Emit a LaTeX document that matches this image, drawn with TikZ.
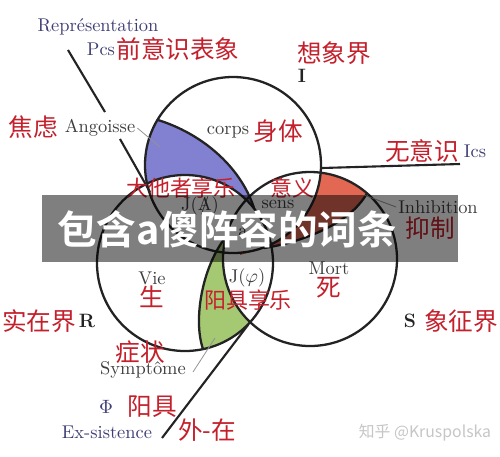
\documentclass[tikz,border=0pt]{standalone}
\usepackage{fontspec}
\newfontfamily\cjk{Noto Sans CJK SC}
\newfontfamily\cjkbold{Noto Sans CJK SC Bold}
\usepackage{tikz}
\definecolor{ink}{RGB}{35,35,35}
\definecolor{zhred}{RGB}{196,32,44}
\definecolor{labgray}{RGB}{62,62,62}
\definecolor{labblue}{RGB}{62,62,118}
\definecolor{angblue}{RGB}{130,128,208}
\definecolor{inhred}{RGB}{226,104,84}
\definecolor{symgreen}{RGB}{165,200,115}

\begin{document}
\begin{tikzpicture}[x=0.2mm,y=-0.2mm]
\tikzstyle{ring}=[draw=ink,line width=1.3pt]
\tikzstyle{longline}=[draw=ink,line width=1.2pt]
\tikzstyle{pointer}=[draw=gray!85,line width=0.45pt]
\tikzstyle{fr}=[text=labgray,inner sep=1pt,font=\fontsize{10.5}{12}\selectfont]
\tikzstyle{frblue}=[fr,text=labblue]
\tikzstyle{reg}=[text=ink,inner sep=1pt,font=\fontsize{11}{12}\selectfont\bfseries]
\tikzstyle{zh}=[text=zhred,inner sep=0pt,font=\cjk\fontsize{14}{16}\selectfont]
\tikzstyle{zhsmall}=[zh,font=\cjk\fontsize{12.5}{14}\selectfont]

\fill[white] (0,0) rectangle (500,456);
\useasboundingbox (0,0) rectangle (500,456);

\coordinate (cI) at (233,165);
\coordinate (cR) at (185,263);
\coordinate (cS) at (310,259);

% angoisse
\begin{scope}
\clip (cI) circle (88);
\clip (116,107) -- (158,120) .. controls (200,133) and (240,165) .. (254,208) -- (270,260) -- (100,260) -- (100,107) -- cycle;
\fill[angblue,even odd rule] (0,0) rectangle (500,456) (cR) circle (88);
\end{scope}

% inhibition
\begin{scope}
\clip (cS) circle (87);
\clip (384,161) -- (367,193) .. controls (350,225) and (298,243) .. (264,248) -- (240,255) -- (240,100) -- (420,100) -- cycle;
\fill[inhred,even odd rule] (0,0) rectangle (500,456) (cI) circle (88);
\end{scope}

% symptome
\begin{scope}
\clip (cR) circle (88);
\clip (236,214) -- (225,238) .. controls (202,268) and (193,320) .. (203,349) -- (213,376) -- (300,376) -- (300,214) -- cycle;
\fill[symgreen,even odd rule] (0,0) rectangle (500,456) (cS) circle (87);
\end{scope}

\draw[ring] (cI) circle (88);
\draw[ring] (cR) circle (88);
\draw[ring] (cS) circle (87);

\draw[ring] (158,120) .. controls (200,133) and (240,165) .. (254,208);
\draw[ring] (367,193) .. controls (350,225) and (298,243) .. (264,248);
\draw[ring] (225,238) .. controls (202,268) and (193,320) .. (203,349);

\coordinate (rep1) at (68,50);
\coordinate (rep2) at (105,112);
\coordinate (rep3) at (120,139);
\coordinate (rep4) at (150,192);
\coordinate (ex1) at (162,438);
\coordinate (ex2) at (248,325);
\coordinate (ics1) at (322,168);
\coordinate (ics2) at (460,164);

\draw[longline] (rep1) -- (rep2);
\draw[longline] (rep3) -- (rep4);
\draw[longline] (ex1) -- (ex2);
\draw[longline] (ics1) -- (ics2);

\node at (98,27) [frblue] (repr) {Représentation};
\node at (101,49) [frblue] (pcs) {Pcs};
\node at (178,49) [zh] (pcszh) {前意识表象};
\node at (334,53) [zh] (imagzh) {想象界};
\node at (302,76) [reg] (imag) {I};

\node at (33,127) [zh] (angzh) {焦虑};
\node at (100,128) [fr] (ang) {Angoisse};
\node at (228,132) [fr] (corps) {corps};
\node at (278,131) [zh] (corpszh) {身体};
\node at (422,151) [zh] (icszh) {无意识};
\node at (475,151) [frblue] (ics) {Ics};

\node at (181,188) [zhsmall] (jazh) {大他者享乐};
\node at (200,206) [fr] (ja) {J(\ooalign{A\cr\hidewidth/\hidewidth})};
\node at (292,188) [zhsmall] (senszh) {意义};
\node at (278,204) [fr] (sens) {sens};
\node at (243,232) [fr] (objeta) {a};
\node at (438,207) [fr] (inh) {Inhibition};
\node at (430,228) [zh] (inhzh) {抑制};

\node at (152,278) [fr] (vie) {Vie};
\node at (152,297) [zh] (viezh) {生};
\node at (247,278) [fr] (jphi) {J($\varphi$)};
\node at (248,300) [zhsmall] (jphizh) {阳具享乐};
\node at (329,268) [fr] (mort) {Mort};
\node at (329,288) [zh] (mortzh) {死};

\node at (39,321) [zh] (realzh) {实在界};
\node at (87,321) [reg] (real) {R};
\node at (410,321) [reg] (symb) {S};
\node at (461,321) [zh] (symbzh) {象征界};

\node at (140,352) [zh] (symzh) {症状};
\node at (143,370) [fr] (sym) {Symptôme};
\node at (106,407) [frblue] (phi) {$\Phi$};
\node at (152,407) [zh] (phizh) {阳具};
\node at (107,432) [frblue] (exs) {Ex-sistence};
\node at (207,430) [zh] (exszh) {外-在};

\coordinate (angp) at (160,147);
\coordinate (inhp) at (364,195);
\coordinate (symp1) at (193,372);
\coordinate (symp2) at (215,338);
\draw[pointer] (ang.east) -- (angp);
\draw[pointer] (inhp) -- (inh.west);
\draw[pointer] (symp1) -- (symp2);

\node at (425,433) [text=gray!45,inner sep=0pt,font=\cjk\fontsize{9}{10}\selectfont] (mark) {知乎 @Kruspolska};

\fill[black,opacity=0.5] (42,195) rectangle (458,262);
\node at (57,229) [anchor=west,text=white,inner sep=0pt,font=\cjkbold\fontsize{22.5}{24}\selectfont] (tag) {包含a傻阵容的词条};

\end{tikzpicture}
\end{document}
